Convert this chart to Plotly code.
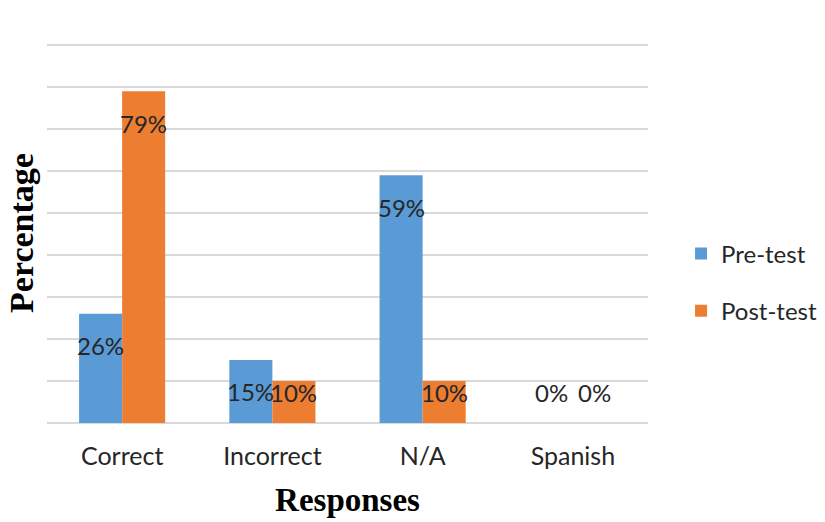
import plotly.graph_objects as go

categories = ["Correct", "Incorrect", "N/A", "Spanish"]
pre_test = [26, 15, 59, 0]
post_test = [79, 10, 10, 0]
series_names = ["Pre-test", "Post-test"]
colors = ["#5b9bd5", "#ed7d31"]

FONT = "Lato"
fig = go.Figure()
for name, vals, col in zip(series_names, [pre_test, post_test], colors):
    fig.add_trace(go.Bar(
        x=categories, y=vals, name=name, marker=dict(color=col, line=dict(width=0)),
        legendgroup=name,
    ))

# data labels
for j, vals in enumerate([pre_test, post_test]):
    shift = -21.5 if j == 0 else 21.5
    for c, v in zip(categories, vals):
        fig.add_annotation(
            x=c, y=max(v - 7.6, 7.2), xref="x", yref="y", xshift=shift,
            text=f"{v}%", showarrow=False, yanchor="middle",
            font=dict(family=FONT, size=24, color="#262626"),
        )

fig.update_layout(
    width=825, height=522,
    margin=dict(l=47, r=177, t=43, b=99, autoexpand=False),
    paper_bgcolor="white", plot_bgcolor="white",
    barmode="group", bargap=0.427, bargroupgap=0,
    showlegend=True,
    legend=dict(
        x=1.055, y=0.37, xanchor="left", yanchor="middle",
        font=dict(family=FONT, size=24, color="#262626"),
        tracegroupgap=23, traceorder="grouped",
        itemwidth=30,
    ),
    xaxis=dict(
        showgrid=False, showline=False, zeroline=False,
        tickfont=dict(family=FONT, size=25, color="#262626"),
        ticks="", ticklabelstandoff=16,
        title=dict(text="<b>Responses</b>", font=dict(family="Liberation Serif", size=33, color="#000"), standoff=18),
        automargin=False,
    ),
    yaxis=dict(
        range=[0, 90.5], dtick=10, showgrid=True, gridcolor="#d9d9d9", gridwidth=1.5,
        zeroline=True, zerolinecolor="#d9d9d9", zerolinewidth=1.5,
        showticklabels=False, showline=False, ticks="",
        title=dict(text="<b>Percentage</b>", font=dict(family="Liberation Serif", size=34, color="#000"), standoff=2),
        automargin=False,
    ),
)

fig.write_html("out.html")
